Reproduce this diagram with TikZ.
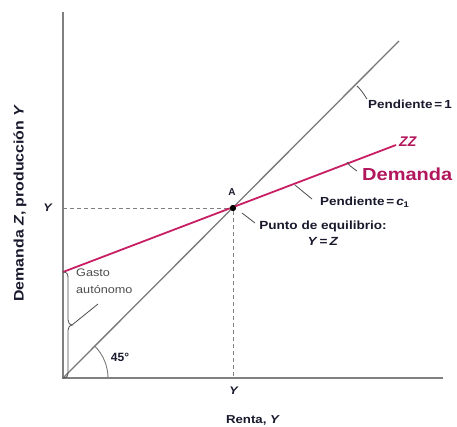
\documentclass[tikz,border=0pt]{standalone}
\usepackage{fontspec}
\setmainfont{Liberation Sans}
\newfontfamily\widesans[FakeStretch=1.15]{Liberation Sans}
\definecolor{axisgray}{RGB}{128,128,128}
\definecolor{linegray}{RGB}{120,120,120}
\definecolor{zzred}{RGB}{200,30,100}
\definecolor{labelred}{RGB}{178,22,92}
\definecolor{ink}{RGB}{25,25,45}
\begin{document}
\begin{tikzpicture}[x=1pt,y=-1pt,
  axis/.style={draw=axisgray,line width=1.4pt},
  diag/.style={draw=linegray,line width=1.3pt},
  demline/.style={draw=zzred,line width=1.8pt},
  guide/.style={draw=axisgray,line width=0.9pt,dash pattern=on 4pt off 3pt},
  tickline/.style={draw=black!70,line width=0.8pt},
  lbl/.style={font=\widesans\bfseries\fontsize{11.7}{13}\selectfont,text=ink,inner sep=0pt},
  thin/.style={font=\widesans\fontsize{11}{17}\selectfont,text=black!70,inner sep=0pt},
]
\useasboundingbox (0,0) rectangle (457,427);
% axes
\coordinate (O) at (63,378);
\coordinate (ytop) at (63,12);
\coordinate (xend) at (443,378);
\draw[axis] (ytop) -- (O) -- (xend);
% 45 degree line
\coordinate (L45) at (399,41);
\draw[diag] (O) -- (L45);
% 45 degree arc
\draw[linegray,line width=0.9pt] (108,378) arc[start angle=0,end angle=45,radius=45pt];
\node[lbl,font=\bfseries\fontsize{12}{14}\selectfont] (ang) at (120,357) {45°};
% equilibrium
\node[circle,fill=black,inner sep=0pt,minimum size=6pt] (A) at (233,208) {};
\coordinate (Yax) at (63,208);
\coordinate (Xax) at (233,378);
\draw[guide] (Yax) -- (A);
\draw[guide] (A) -- (Xax);
% demand line
\coordinate (Zint) at (63,272);
\coordinate (ZZend) at (396,145);
\draw[demline] (Zint) -- (ZZend);
\node[circle,fill=black,inner sep=0pt,minimum size=6pt] at (A) {};
% axis labels
\node[lbl,font=\widesans\bfseries\fontsize{11}{13}\selectfont] (Yl) at (48,208) {\textit{Y}};
\node[lbl,font=\widesans\bfseries\fontsize{11}{13}\selectfont] (Yb) at (234,391) {\textit{Y}};
\node[lbl,font=\widesans\bfseries\fontsize{11.5}{13}\selectfont] (renta) at (253,420) {Renta, \textit{Y}};
\node[lbl,rotate=90,font=\widesans\bfseries\fontsize{13.8}{16}\selectfont] (ylab) at (20,203) {Demanda \textit{Z}, producción \textit{Y}};
% A label and equilibrium text
\node[lbl,font=\bfseries\fontsize{10}{12}\selectfont] (Alab) at (232,192) {A};
\node[lbl,align=center,font=\widesans\bfseries\fontsize{11.8}{16.5}\selectfont] (punto) at (323,233) {Punto de equilibrio:\\\textit{Y}\,=\,\textit{Z}};
\coordinate (tA1) at (242,213);
\coordinate (tA2) at (255,223);
\draw[tickline] (tA1) -- (tA2);
% slope = 1
\node[lbl,anchor=west] (p1) at (368,104) {Pendiente\,=\,1};
\coordinate (t1a) at (357,86);
\coordinate (t1b) at (367,99);
\draw[tickline] (t1a) .. controls (361,90) .. (t1b);
% slope = c1
\node[lbl,anchor=west] (pc) at (320,202) {Pendiente\,=\,\textit{c}\textsubscript{1}};
\coordinate (tca) at (295,185);
\coordinate (tcb) at (312,199);
\draw[tickline] (tca) .. controls (301,190) .. (tcb);
% ZZ and Demanda
\node[lbl,anchor=west,text=labelred,font=\bfseries\itshape\fontsize{14}{16}\selectfont] (ZZ) at (399,142) {ZZ};
\node[lbl,anchor=west,text=labelred,font=\widesans\bfseries\fontsize{17.4}{20}\selectfont] (dem) at (362,174) {Demanda};
\coordinate (tda) at (347,162);
\coordinate (tdb) at (357,171);
\draw[tickline] (tda) .. controls (350,166) .. (tdb);
% autonomous spending brace
\coordinate (btip) at (72,325);
\draw[tickline] (Zint) .. controls (67,272) and (68,274) .. (68,278) -- (68,320)
  .. controls (68,323) and (70,325) .. (btip)
  .. controls (70,325) and (68,327) .. (68,330) -- (68,372)
  .. controls (68,376) and (67,378) .. (O);
\node[thin,anchor=north west,align=left] (gasto) at (76,269) {Gasto\\autónomo};
\coordinate (gp) at (98,304);
\draw[tickline] (btip) -- (gp);
\end{tikzpicture}
\end{document}
